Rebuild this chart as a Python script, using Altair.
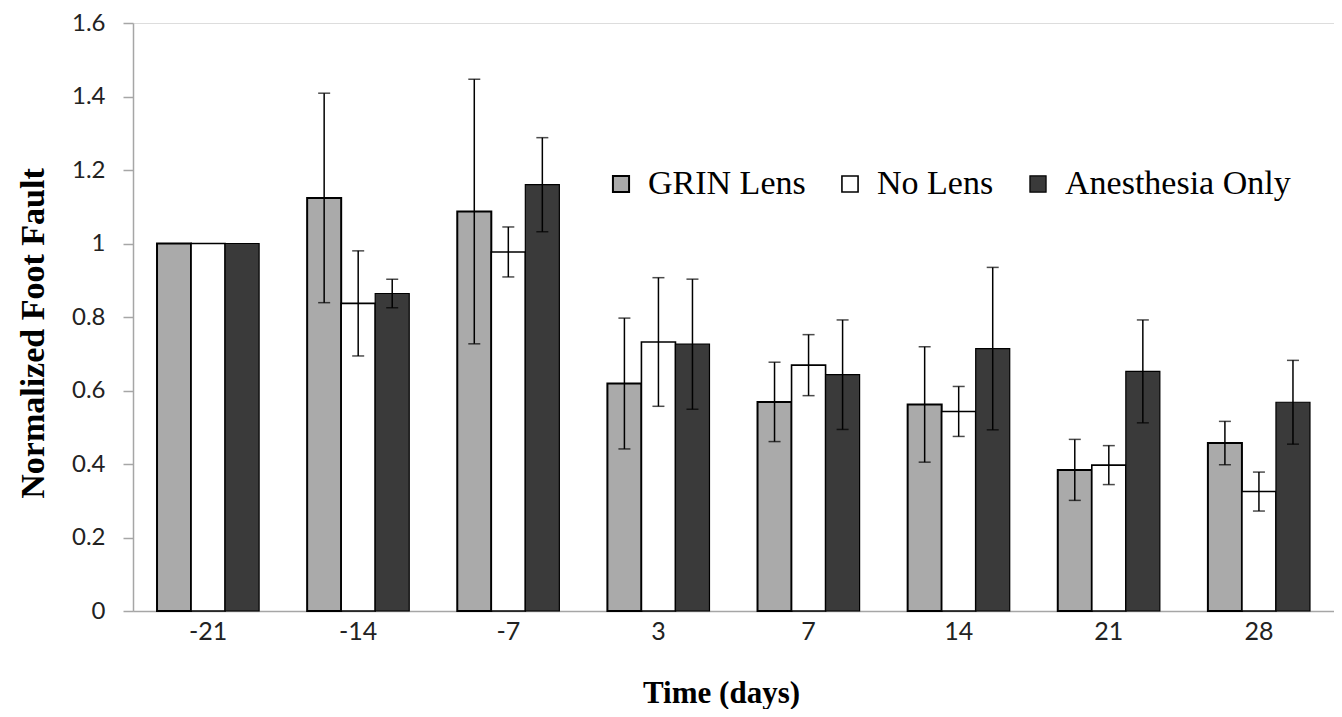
import altair as alt
import pandas as pd

days = ["-21", "-14", "-7", "3", "7", "14", "21", "28"]
series_names = ["GRIN Lens", "No Lens", "Anesthesia Only"]
grin = [1.0, 1.124, 1.087, 0.619, 0.569, 0.562, 0.384, 0.457]
grin_err = [0.0, 0.285, 0.36, 0.178, 0.108, 0.157, 0.083, 0.059]
nolens = [1.0, 0.837, 0.977, 0.732, 0.669, 0.543, 0.397, 0.325]
nolens_err = [0.0, 0.143, 0.068, 0.175, 0.083, 0.068, 0.053, 0.053]
anes = [1.0, 0.864, 1.160, 0.726, 0.643, 0.714, 0.652, 0.568]
anes_err = [0.0, 0.039, 0.128, 0.177, 0.149, 0.221, 0.140, 0.114]
y_ticks = [0, 0.2, 0.4, 0.6, 0.8, 1.0, 1.2, 1.4, 1.6]

rows = []
for name, vals, errs in zip(series_names, [grin, nolens, anes], [grin_err, nolens_err, anes_err]):
    for d, v, e in zip(days, vals, errs):
        rows.append({"day": d, "series": name, "value": v, "err": e,
                     "lo": v - e, "hi": v + e})
df = pd.DataFrame(rows)
df_err = df[df["err"] > 0]

fills = ["#aaaaaa", "#ffffff", "#3a3a3a"]

x_enc = alt.X("day:N", sort=days,
              scale=alt.Scale(paddingInner=0.32, paddingOuter=0.16),
              axis=alt.Axis(title="Time (days)", labelAngle=0, ticks=False,
                            domainColor="#a6a6a6", domainWidth=1.5,
                            labelFont="Lato", labelFontSize=25, labelColor="#222222",
                            labelPadding=8,
                            titleFont="Liberation Serif", titleFontWeight="bold",
                            titleFontSize=31, titleColor="#000000", titlePadding=34,
                            titleX=588))
xoff = alt.XOffset("series:N", sort=series_names,
                   scale=alt.Scale(domain=series_names, paddingInner=0, paddingOuter=0))

y_scale = alt.Scale(domain=[0, 1.6], nice=False)

bars = alt.Chart(df).mark_bar(stroke="#000000").encode(
    x=x_enc,
    xOffset=xoff,
    y=alt.Y("value:Q", scale=y_scale,
            axis=alt.Axis(title="Normalized Foot Fault", values=y_ticks, format=".1~f",
                          grid=False, domainColor="#a6a6a6", domainWidth=1.5,
                          tickColor="#a6a6a6", tickSize=10, tickWidth=1.5,
                          labelFont="Lato", labelFontSize=24, labelColor="#222222",
                          labelPadding=18,
                          titleFont="Liberation Serif", titleFontWeight="bold",
                          titleFontSize=34, titleColor="#000000", titlePadding=21,
                          titleY=310)),
    fill=alt.Fill("series:N", sort=series_names,
                  scale=alt.Scale(domain=series_names, range=fills),
                  legend=alt.Legend(title=None, orient="none", legendX=471, legendY=144,
                                    direction="horizontal", symbolType="square",
                                    symbolSize=260, symbolStrokeColor="#000000",
                                    symbolStrokeWidth=1.5, symbolOpacity=1,
                                    labelFont="Liberation Serif", labelFontSize=34,
                                    labelColor="#000000", labelOffset=10,
                                    columnPadding=27, labelLimit=400)),
    strokeWidth=alt.StrokeWidth("series:N", sort=series_names,
                                scale=alt.Scale(domain=series_names, range=[2, 1.2, 3]),
                                legend=None),
)

rules = alt.Chart(df_err).mark_rule(color="#000000", strokeWidth=1.5).encode(
    x=alt.X("day:N", sort=days), xOffset=xoff,
    y=alt.Y("lo:Q", scale=y_scale), y2="hi:Q",
)
caps_hi = alt.Chart(df_err).mark_tick(color="#000000", thickness=1.5, size=12).encode(
    x=alt.X("day:N", sort=days), xOffset=xoff,
    y=alt.Y("hi:Q", scale=y_scale),
)
caps_lo = alt.Chart(df_err).mark_tick(color="#000000", thickness=1.5, size=12).encode(
    x=alt.X("day:N", sort=days), xOffset=xoff,
    y=alt.Y("lo:Q", scale=y_scale),
)

chart = alt.layer(bars, rules, caps_hi, caps_lo).properties(
    width=1201, height=588,
    autosize=alt.AutoSizeParams(type="none"),
    padding={"left": 125, "top": 15, "right": 0, "bottom": 98},
).configure_view(stroke=None).configure(background="#ffffff")

chart.save("out.html", embed_options={"renderer": "svg", "actions": False})
